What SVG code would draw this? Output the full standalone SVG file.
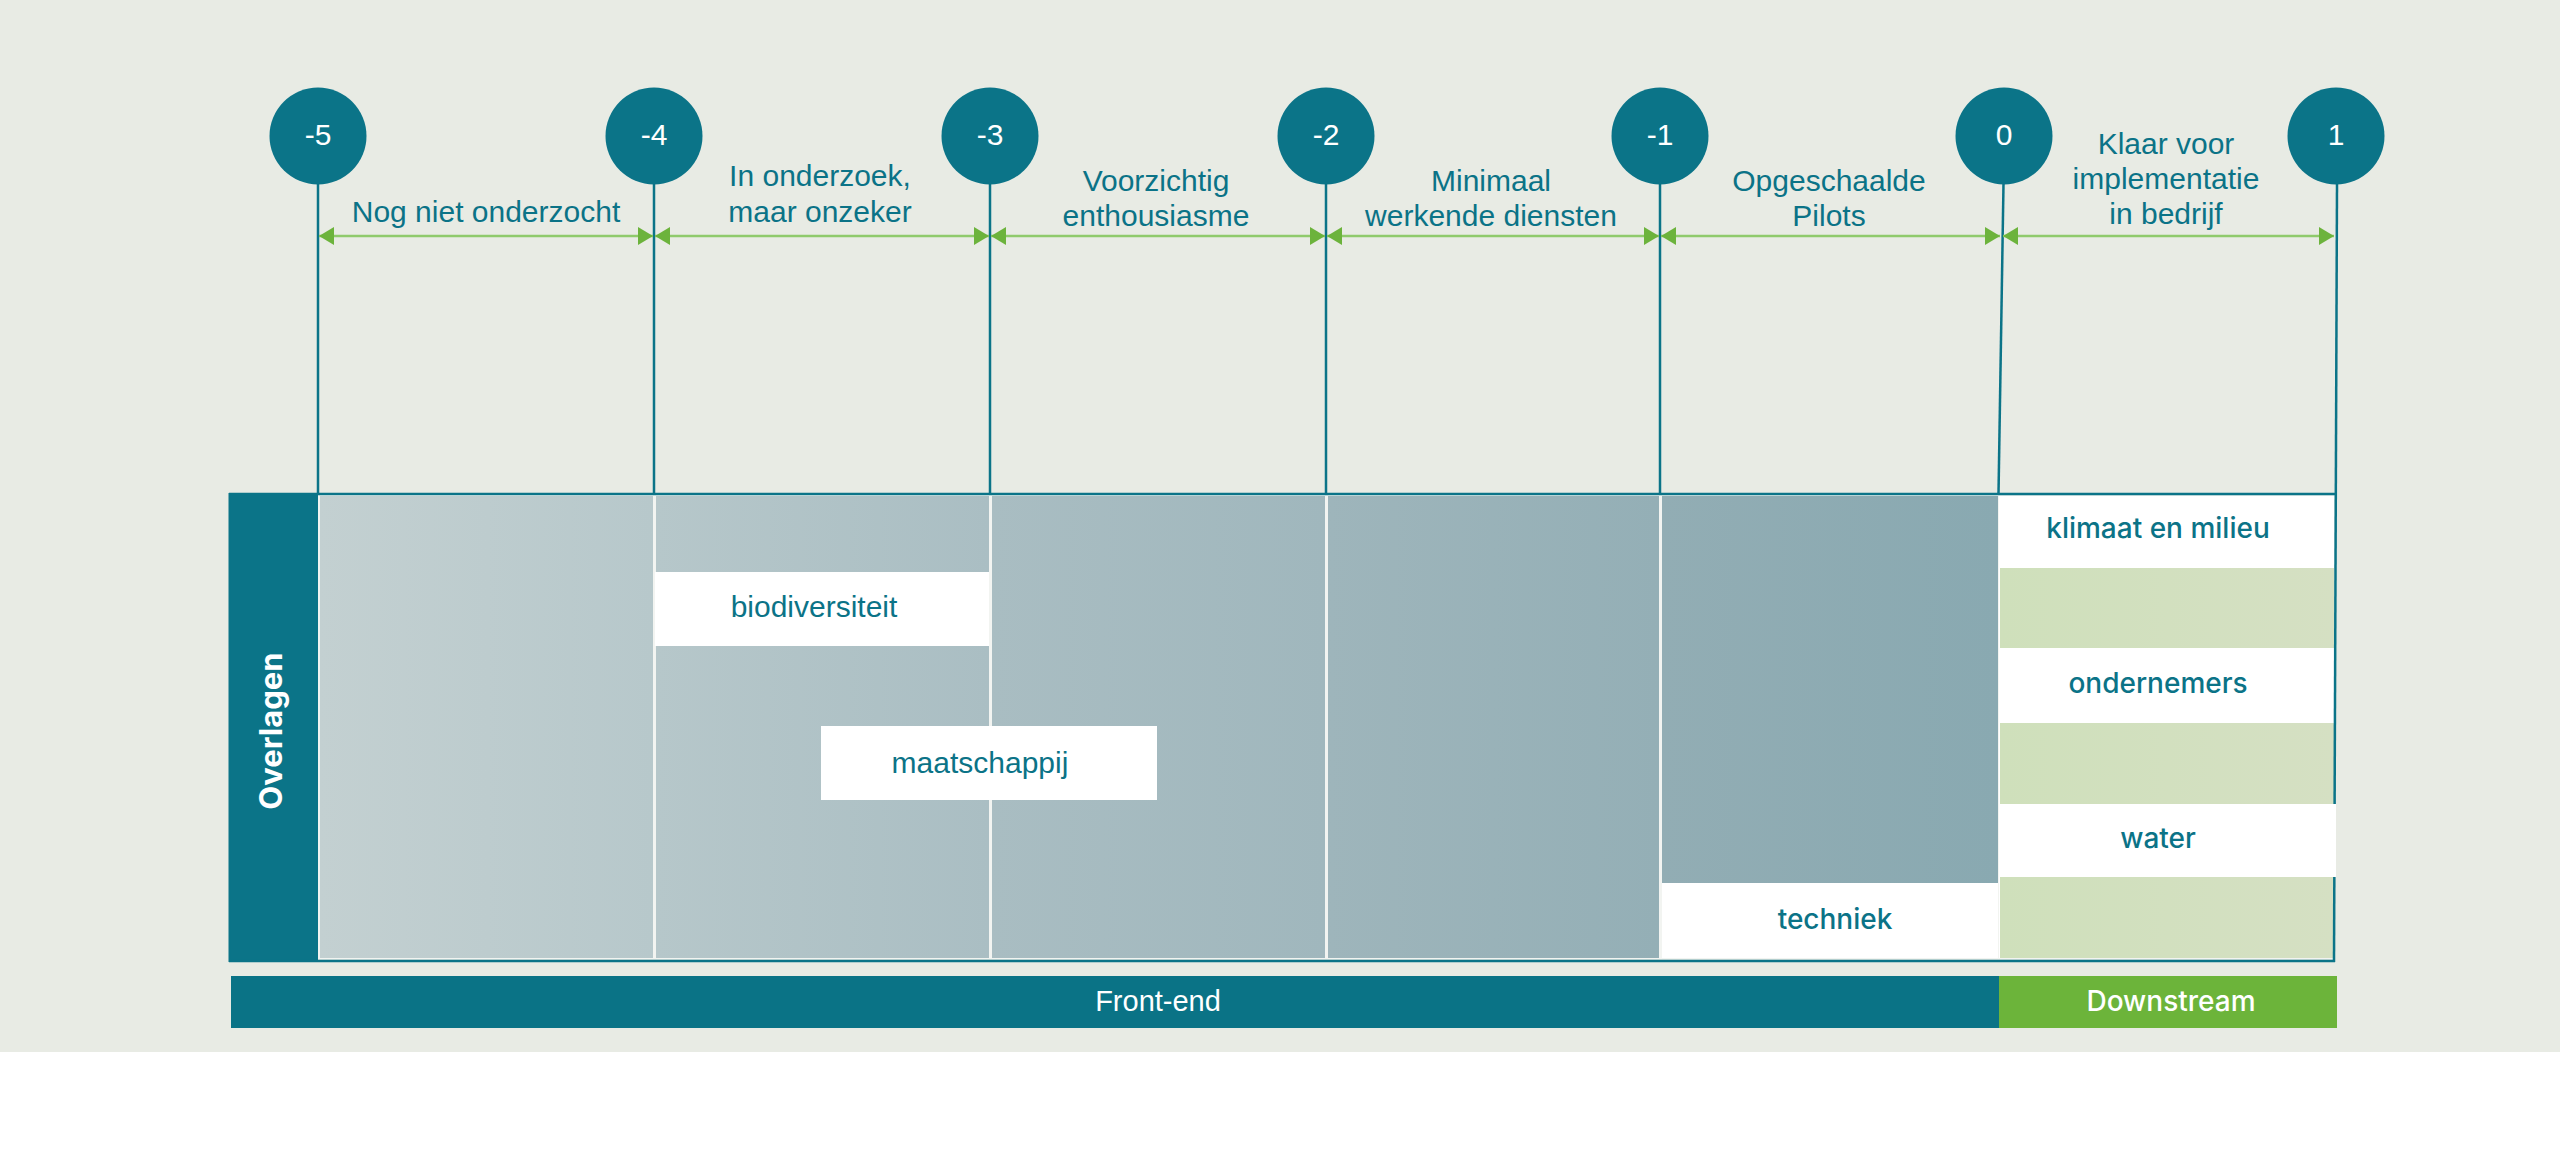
<svg xmlns="http://www.w3.org/2000/svg" width="2560" height="1172" viewBox="0 0 2560 1172">
<style>
.lbl{font-family:"Liberation Sans",Arial,sans-serif;font-size:30px;fill:#0b7387;text-anchor:middle}
.num{font-family:"Liberation Sans",Arial,sans-serif;font-size:30px;fill:#ffffff;text-anchor:middle}
.geo{font-family:Inter,"Noto Sans",sans-serif;font-size:28px;font-weight:500;fill:#0b7387;text-anchor:middle}
.stage{fill:#0b7488}
.vline{stroke:#0b7488;stroke-width:2.5;fill:none}
.arrow{stroke:#8fca6c;stroke-width:2.5;fill:none;marker-start:url(#ahL);marker-end:url(#ahR)}
.box{fill:#ffffff}
.grn{fill:url(#gGreen)}
</style>
<defs>
<marker id="ahR" markerUnits="userSpaceOnUse" markerWidth="16" markerHeight="18" refX="15" refY="9" orient="auto">
<path d="M0,0 L15,9 L0,18 Z" fill="#6cb33c"/>
</marker>
<marker id="ahL" markerUnits="userSpaceOnUse" markerWidth="16" markerHeight="18" refX="1" refY="9" orient="auto">
<path d="M16,0 L1,9 L16,18 Z" fill="#6cb33c"/>
</marker>
<linearGradient id="g1"><stop offset="0" stop-color="#c3d0d1"/><stop offset="1" stop-color="#b7c8cb"/></linearGradient>
<linearGradient id="g2"><stop offset="0" stop-color="#b6c7ca"/><stop offset="1" stop-color="#aabec3"/></linearGradient>
<linearGradient id="g3"><stop offset="0" stop-color="#a9bdc2"/><stop offset="1" stop-color="#a0b7bd"/></linearGradient>
<linearGradient id="g4"><stop offset="0" stop-color="#9eb5bb"/><stop offset="1" stop-color="#94afb6"/></linearGradient>
<linearGradient id="g5"><stop offset="0" stop-color="#92adb4"/><stop offset="1" stop-color="#89a9b1"/></linearGradient>
<linearGradient id="gGreen"><stop offset="0" stop-color="#cfe0bb"/><stop offset="1" stop-color="#d5e0c3"/></linearGradient>
</defs>

<rect x="0" y="0" width="2560" height="1052" fill="#e8ebe4"/>
<rect x="0" y="1052" width="2560" height="120" fill="#ffffff"/>

<!-- table body -->
<g id="table">
<rect x="318" y="495" width="2016" height="464" fill="#f2f4f1"/>
<rect id="overlagen-bar" x="230" y="494" width="88" height="467" fill="#0b7488"/>
<rect x="320" y="496" width="333" height="462" fill="url(#g1)"/>
<rect x="656" y="496" width="333" height="462" fill="url(#g2)"/>
<rect x="992" y="496" width="333" height="462" fill="url(#g3)"/>
<rect x="1328" y="496" width="331" height="462" fill="url(#g4)"/>
<rect x="1662" y="496" width="336" height="462" fill="url(#g5)"/>
<rect x="1999" y="496" width="335" height="462" fill="#ffffff"/>
<rect class="grn" x="2000" y="568" width="334" height="80"/>
<rect class="grn" x="2000" y="723" width="334" height="81"/>
<rect class="grn" x="2000" y="877" width="334" height="81"/>
<line x1="229" y1="494" x2="2335" y2="494" stroke="#0b7488" stroke-width="2.5"/>
<line x1="229" y1="961" x2="2335" y2="961" stroke="#0b7488" stroke-width="2.5"/>
<line x1="229.5" y1="493" x2="229.5" y2="962" stroke="#0b7488" stroke-width="2"/>
<text transform="translate(282,731) rotate(-90)" font-family="Inter,'Liberation Sans',sans-serif" font-size="31" font-weight="700" fill="#ffffff" text-anchor="middle">Overlagen</text>
</g>

<!-- connectors -->
<g id="connectors">
<line class="vline" x1="318" y1="184" x2="318" y2="494"/>
<line class="vline" x1="654" y1="184" x2="654" y2="494"/>
<line class="vline" x1="990" y1="184" x2="990" y2="494"/>
<line class="vline" x1="1326" y1="184" x2="1326" y2="494"/>
<line class="vline" x1="1660" y1="184" x2="1660" y2="494"/>
<line class="vline" x1="2003.5" y1="184" x2="1998.5" y2="494"/>
<line class="vline" x1="2337" y1="184" x2="2334" y2="962"/>
<line class="arrow" x1="319" y1="236" x2="653" y2="236"/>
<line class="arrow" x1="655" y1="236" x2="989" y2="236"/>
<line class="arrow" x1="991" y1="236" x2="1325" y2="236"/>
<line class="arrow" x1="1327" y1="236" x2="1659" y2="236"/>
<line class="arrow" x1="1661" y1="236" x2="2000" y2="236"/>
<line class="arrow" x1="2003" y1="236" x2="2334" y2="236"/>
</g>

<!-- stage circles -->
<g id="stage-m5"><circle class="stage" cx="318" cy="136" r="48.5"/><text class="num" x="318" y="145">-5</text></g>
<g id="stage-m4"><circle class="stage" cx="654" cy="136" r="48.5"/><text class="num" x="654" y="145">-4</text></g>
<g id="stage-m3"><circle class="stage" cx="990" cy="136" r="48.5"/><text class="num" x="990" y="145">-3</text></g>
<g id="stage-m2"><circle class="stage" cx="1326" cy="136" r="48.5"/><text class="num" x="1326" y="145">-2</text></g>
<g id="stage-m1"><circle class="stage" cx="1660" cy="136" r="48.5"/><text class="num" x="1660" y="145">-1</text></g>
<g id="stage-0"><circle class="stage" cx="2004" cy="136" r="48.5"/><text class="num" x="2004" y="145">0</text></g>
<g id="stage-1"><circle class="stage" cx="2336" cy="136" r="48.5"/><text class="num" x="2336" y="145">1</text></g>

<!-- phase labels -->
<g id="label-1"><text class="lbl" x="486" y="222">Nog niet onderzocht</text></g>
<g id="label-2"><text class="lbl" x="820" y="186">In onderzoek,</text><text class="lbl" x="820" y="222">maar onzeker</text></g>
<g id="label-3"><text class="lbl" x="1156" y="191">Voorzichtig</text><text class="lbl" x="1156" y="226">enthousiasme</text></g>
<g id="label-4"><text class="lbl" x="1491" y="191">Minimaal</text><text class="lbl" x="1491" y="226">werkende diensten</text></g>
<g id="label-5"><text class="lbl" x="1829" y="191">Opgeschaalde</text><text class="lbl" x="1829" y="226">Pilots</text></g>
<g id="label-6"><text class="lbl" x="2166" y="154">Klaar voor</text><text class="lbl" x="2166" y="189">implementatie</text><text class="lbl" x="2166" y="224">in bedrijf</text></g>

<!-- overlay boxes -->
<g id="box-biodiversiteit"><rect class="box" x="655" y="572" width="334" height="74"/><text class="lbl" x="814" y="617">biodiversiteit</text></g>
<g id="box-maatschappij"><rect class="box" x="821" y="726" width="336" height="74"/><text class="lbl" x="980" y="773">maatschappij</text></g>
<g id="box-techniek"><rect class="box" x="1662" y="883" width="336" height="75"/><text class="geo" x="1835" y="929">techniek</text></g>
<g id="box-klimaat"><text class="geo" x="2158" y="538">klimaat en milieu</text></g>
<g id="box-ondernemers"><text class="geo" x="2158" y="693">ondernemers</text></g>
<g id="box-water"><rect class="box" x="1999" y="804" width="337" height="73"/><text class="geo" x="2158" y="848">water</text></g>

<!-- bottom bars -->
<g id="bar-frontend"><rect x="231" y="976" width="1768" height="52" fill="#0a7386"/><text x="1158" y="1011" font-family="'Liberation Sans',Arial,sans-serif" font-size="29" fill="#ffffff" text-anchor="middle">Front-end</text></g>
<g id="bar-downstream"><rect x="1999" y="976" width="338" height="52" fill="#6cb43a"/><text x="2171" y="1011" font-family="Inter,'Noto Sans',sans-serif" font-size="28" font-weight="500" fill="#ffffff" text-anchor="middle">Downstream</text></g>
</svg>
